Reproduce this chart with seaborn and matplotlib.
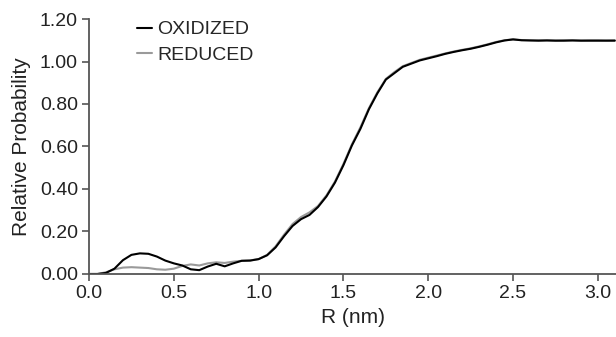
import pandas as pd
import numpy as np
import matplotlib.pyplot as plt
import seaborn as sns

sns.set_theme(style="ticks")
plt.rcParams['font.family'] = ['Liberation Sans', 'DejaVu Sans']

# R (nm), pontos lidos a cada 0.05 nm
r_nm = [round(0.05 * i, 2) for i in range(63)]

oxidized = [
    0.000, 0.000, 0.005, 0.025, 0.065, 0.090, 0.097, 0.095, 0.082, 0.063,
    0.050, 0.040, 0.022, 0.018, 0.035, 0.048, 0.036, 0.050, 0.062, 0.063,
    0.070, 0.088, 0.125, 0.178, 0.226, 0.258, 0.278, 0.315, 0.365, 0.430,
    0.512, 0.605, 0.683, 0.775, 0.850, 0.915, 0.945, 0.975, 0.990, 1.005,
    1.015, 1.025, 1.036, 1.045, 1.053, 1.060, 1.069, 1.079, 1.090, 1.099,
    1.104, 1.100, 1.099, 1.098, 1.099, 1.098, 1.098, 1.099, 1.098, 1.098,
    1.098, 1.098, 1.098,
]

reduced = [
    0.000, 0.000, 0.008, 0.022, 0.030, 0.032, 0.030, 0.028, 0.022, 0.020,
    0.025, 0.038, 0.045, 0.040, 0.050, 0.055, 0.052, 0.058, 0.062, 0.064,
    0.070, 0.090, 0.130, 0.185, 0.235, 0.268, 0.290, 0.320, 0.370, 0.435,
    0.518, 0.610, 0.690, 0.780, 0.855, 0.918, 0.950, 0.978, 0.993, 1.008,
    1.018, 1.028, 1.038, 1.047, 1.055, 1.062, 1.071, 1.081, 1.092, 1.100,
    1.104, 1.101, 1.100, 1.100, 1.100, 1.099, 1.100, 1.100, 1.099, 1.100,
    1.100, 1.099, 1.100,
]

df = pd.DataFrame({
    'R': r_nm * 2,
    'P': oxidized + reduced,
    'Estado': ['OXIDIZED'] * len(r_nm) + ['REDUCED'] * len(r_nm),
})

fig = plt.figure(figsize=(6.16, 3.37), dpi=100)
ax = fig.add_axes([0.1445, 0.187, 0.8555, 0.7566])

sns.lineplot(
    data=df, x='R', y='P', hue='Estado',
    hue_order=['REDUCED', 'OXIDIZED'],
    palette={'OXIDIZED': 'black', 'REDUCED': '#9a9a9a'},
    linewidth=1.5, ax=ax,
)

ax.set_xlim(0, 3.107)
ax.set_ylim(0, 1.2)
ax.set_xticks([0.0, 0.5, 1.0, 1.5, 2.0, 2.5, 3.0])
ax.set_xticklabels(['0.0', '0.5', '1.0', '1.5', '2.0', '2.5', '3.0'])
ax.set_yticks([0.0, 0.2, 0.4, 0.6, 0.8, 1.0, 1.2])
ax.set_yticklabels(['0.00', '0.20', '0.40', '0.60', '0.80', '1.00', '1.20'])
ax.tick_params(labelsize=14, length=5, width=1.2, color='#555555', colors='#222222', pad=3)
for s in ['left', 'bottom']:
    ax.spines[s].set_color('#555555')
    ax.spines[s].set_linewidth(1.3)
sns.despine(ax=ax)

ax.set_xlabel("R (nm)", fontsize=15, color='#222222', labelpad=4)
ax.set_ylabel("Relative Probability", fontsize=15, color='#222222', labelpad=6)

h, l = ax.get_legend_handles_labels()
ax.legend(h[::-1], l[::-1], loc='upper left', bbox_to_anchor=(0.057, 1.062),
          frameon=False, fontsize=14, handlelength=0.8, handletextpad=0.25,
          labelspacing=0.4)

plt.savefig("out.png", dpi=100)
